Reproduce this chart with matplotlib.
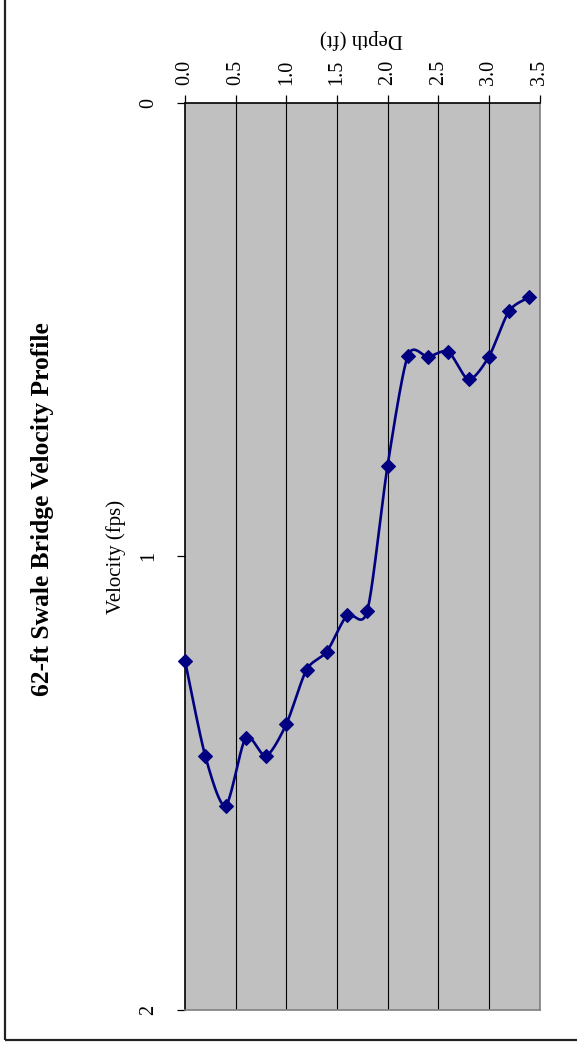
import numpy as np
import matplotlib
matplotlib.use("Agg")
import matplotlib.pyplot as plt
from matplotlib.patches import Rectangle

# Measured velocity profile
depth_ft = [0.0, 0.2, 0.4, 0.6, 0.8, 1.0, 1.2, 1.4, 1.6, 1.8,
            2.0, 2.2, 2.4, 2.6, 2.8, 3.0, 3.2, 3.4]
velocity_fps = [1.23, 1.44, 1.55, 1.40, 1.44, 1.37, 1.25, 1.21, 1.13, 1.12,
                0.80, 0.558, 0.56, 0.549, 0.61, 0.56, 0.459, 0.429]

depth_ticks = [0.0, 0.5, 1.0, 1.5, 2.0, 2.5, 3.0, 3.5]
velocity_ticks = [0, 1, 2]

title = "62-ft Swale Bridge Velocity Profile"
velocity_label = "Velocity (fps)"
depth_label = "Depth (ft)"

SERIF = ["Liberation Serif", "DejaVu Serif"]
NAVY = "#000080"


def smooth_curve(xs, ys, samples=24, tension=0.8):
    """Cardinal-spline curve through the points (spreadsheet-style smoothed line)."""
    p = np.column_stack([xs, ys]).astype(float)
    p = np.vstack([p[0], p, p[-1]])
    out = []
    t = np.linspace(0, 1, samples, endpoint=False)[:, None]
    h00 = 2 * t ** 3 - 3 * t ** 2 + 1
    h10 = t ** 3 - 2 * t ** 2 + t
    h01 = -2 * t ** 3 + 3 * t ** 2
    h11 = t ** 3 - t ** 2
    for i in range(1, len(p) - 2):
        p0, p1, p2, p3 = p[i - 1], p[i], p[i + 1], p[i + 2]
        m1 = tension * 0.5 * (p2 - p0)
        m2 = tension * 0.5 * (p3 - p1)
        out.append(h00 * p1 + h10 * m1 + h01 * p2 + h11 * m2)
    out.append(p[-2][None, :])
    c = np.vstack(out)
    return c[:, 0], c[:, 1]


W, H = 577, 1044
fig = plt.figure(figsize=(W / 100, H / 100), dpi=100)
fig.patch.set_facecolor("white")

# outer chart border
fig.patches.append(Rectangle((5 / W, 4 / H), 1.2, 1.2, transform=fig.transFigure,
                             fill=False, edgecolor="#222222", linewidth=1.6))

ax = fig.add_axes([185 / W, 1 - 1010 / H, 354.5 / W, (1010 - 102.7) / H])
ax.set_facecolor("#C0C0C0")
ax.set_xlim(0, 3.5)
ax.set_ylim(2, 0)

for d in depth_ticks[1:-1]:
    ax.axvline(d, color="black", linewidth=0.8, zorder=1)

sx, sy = smooth_curve(depth_ft, velocity_fps)
ax.plot(sx, sy, color=NAVY, linewidth=1.9, zorder=3, solid_capstyle="round")
ax.plot(depth_ft, velocity_fps, linestyle="none", marker="D", markersize=7.2,
        color=NAVY, markeredgecolor=NAVY, markeredgewidth=0.8, zorder=4,
        clip_on=False)

ax.xaxis.tick_top()
ax.set_xticks(depth_ticks)
ax.set_xticklabels([f"{d:.1f}" for d in depth_ticks], rotation=90,
                   family=SERIF, fontsize=14.5, va="bottom", ha="center")
ax.set_yticks(velocity_ticks)
ax.set_yticklabels([str(v) for v in velocity_ticks], rotation=90,
                   family=SERIF, fontsize=14.5, va="center", ha="right")
ax.tick_params(axis="x", direction="out", length=6, width=0.9, pad=7, color="black")
ax.tick_params(axis="y", direction="out", length=6, width=0.9, pad=13, color="black")

ax.spines["left"].set_color("black")
ax.spines["top"].set_color("black")
ax.spines["right"].set_color("#808080")
ax.spines["bottom"].set_color("#808080")
for s in ax.spines.values():
    s.set_linewidth(1.2)

fig.text(43 / W, 1 - 509 / H, title, rotation=90, ha="center", va="center",
         family=SERIF, fontsize=18.4, fontweight="bold")
fig.text(116 / W, 1 - 557 / H, velocity_label, rotation=90, ha="center", va="center",
         family=SERIF, fontsize=15)
fig.text(361 / W, 1 - 39 / H, depth_label, rotation=180, ha="center", va="center",
         family=SERIF, fontsize=15)

fig.savefig("out.png", dpi=100)
